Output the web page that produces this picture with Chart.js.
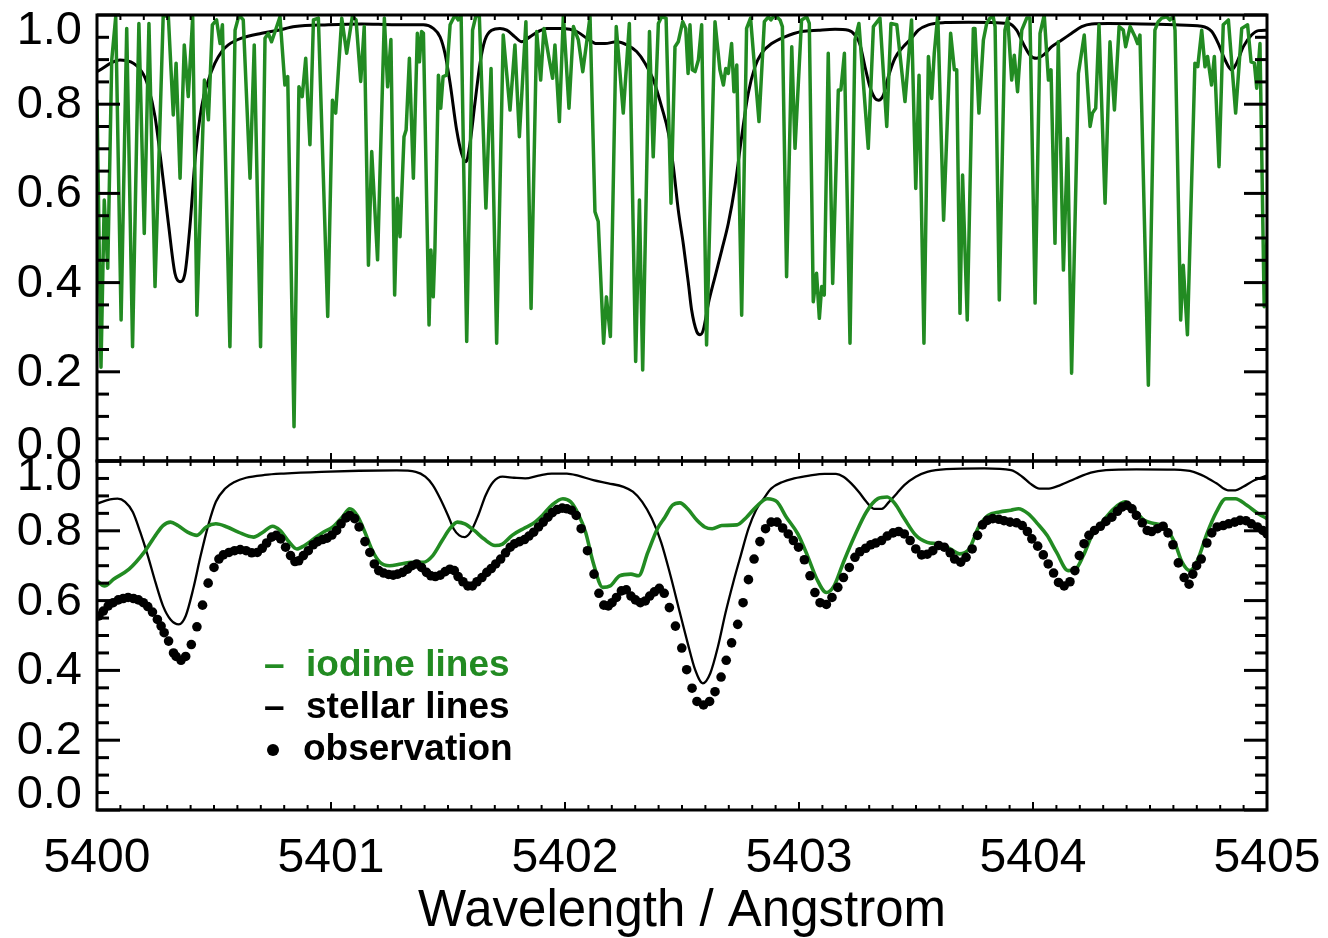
<!DOCTYPE html>
<html>
<head>
<meta charset="utf-8">
<script src="https://cdn.jsdelivr.net/npm/chart.js@4.4.0/dist/chart.umd.min.js"></script>
<style>
  html, body { margin: 0; padding: 0; background: #fff; }
  #wrap { position: relative; width: 1328px; height: 938px; }
  canvas { position: absolute; left: 0; top: 0; }
</style>
</head>
<body>
<div id="wrap">
  <canvas id="bottomPanel" width="1328" height="938"></canvas>
  <canvas id="topPanel" width="1328" height="938"></canvas>
</div>
<script>
// ---------------- DATA (wavelength given as offset from 5400 Angstrom) ----------------
const WAVE0 = 5400;
const xTickValues = [5400, 5401, 5402, 5403, 5404, 5405];
const yTickValues = [0.0, 0.2, 0.4, 0.6, 0.8, 1.0];
const yTickLabels = ['0.0', '0.2', '0.4', '0.6', '0.8', '1.0'];
const xAxisTitle = 'Wavelength / Angstrom';
const legendLabels = ['iodine lines', 'stellar lines', 'observation'];

// Top panel: high-resolution iodine spectrum
const iodineHiRes_dWave = [0.000,0.017,0.031,0.046,0.063,0.080,0.103,0.127,0.152,0.179,0.202,0.222,0.248,0.283,0.305,0.326,0.338,0.355,0.373,0.390,0.409,0.427,0.459,0.476,0.493,0.511,0.526,0.536,0.568,0.590,0.607,0.625,0.654,0.672,0.699,0.718,0.732,0.746,0.761,0.782,0.803,0.815,0.842,0.863,0.877,0.892,0.910,0.925,0.946,0.986,1.006,1.020,1.046,1.067,1.091,1.107,1.127,1.142,1.160,1.174,1.199,1.228,1.242,1.256,1.272,1.283,1.295,1.312,1.321,1.335,1.352,1.369,1.378,1.387,1.395,1.419,1.427,1.437,1.444,1.459,1.469,1.479,1.494,1.509,1.530,1.544,1.556,1.580,1.605,1.620,1.634,1.662,1.684,1.708,1.736,1.765,1.786,1.805,1.833,1.855,1.879,1.896,1.910,1.933,1.947,1.957,1.976,1.993,2.017,2.036,2.057,2.076,2.107,2.128,2.142,2.165,2.177,2.194,2.219,2.249,2.275,2.302,2.318,2.332,2.361,2.377,2.399,2.413,2.432,2.453,2.470,2.484,2.503,2.516,2.526,2.534,2.544,2.556,2.570,2.584,2.605,2.641,2.662,2.677,2.687,2.698,2.712,2.722,2.734,2.755,2.776,2.793,2.829,2.852,2.869,2.880,2.897,2.919,2.929,2.947,2.969,2.983,3.011,3.033,3.044,3.061,3.075,3.087,3.097,3.108,3.125,3.144,3.168,3.179,3.194,3.218,3.239,3.256,3.296,3.318,3.346,3.375,3.393,3.418,3.453,3.481,3.499,3.513,3.534,3.553,3.567,3.578,3.593,3.618,3.648,3.664,3.674,3.688,3.699,3.719,3.745,3.752,3.769,3.788,3.802,3.816,3.830,3.838,3.856,3.880,3.892,3.909,3.920,3.934,3.952,3.973,3.987,4.009,4.030,4.048,4.066,4.077,4.094,4.108,4.130,4.148,4.165,4.194,4.219,4.244,4.254,4.268,4.282,4.308,4.329,4.348,4.368,4.386,4.396,4.415,4.436,4.447,4.457,4.493,4.521,4.535,4.550,4.571,4.585,4.600,4.607,4.631,4.642,4.660,4.692,4.704,4.721,4.735,4.746,4.763,4.775,4.795,4.813,4.835,4.866,4.892,4.917,4.932,4.946,4.956,4.970,4.988,5.000];
const iodineHiRes_flux = [0.81,0.21,0.585,0.432,0.899,0.996,0.316,0.970,0.256,0.981,0.510,0.981,0.391,1.000,0.996,0.776,0.892,0.634,0.933,0.817,0.996,0.327,0.854,0.765,0.978,0.989,0.936,0.978,0.256,0.966,1.000,0.989,0.634,0.933,0.256,0.948,0.959,0.940,0.963,0.996,0.843,0.862,0.077,0.839,0.817,0.903,0.709,0.989,0.993,0.324,0.809,0.780,0.993,0.914,0.996,0.989,0.851,0.974,0.439,0.694,0.451,0.993,0.839,0.945,0.372,0.589,0.503,0.727,0.742,0.903,0.634,0.959,0.895,0.963,0.959,0.305,0.473,0.368,0.473,0.865,0.791,0.862,0.865,0.978,1.000,0.989,1.000,0.268,0.966,1.000,0.996,0.567,0.880,0.264,0.955,0.787,0.933,0.727,0.985,0.342,0.963,0.854,0.970,0.899,0.858,0.933,0.761,1.000,0.791,0.974,0.944,0.873,0.996,0.559,0.537,0.264,0.368,0.279,0.974,0.780,0.981,0.223,0.585,0.204,0.963,0.682,0.981,0.996,0.993,0.578,0.929,0.940,0.985,0.970,0.869,0.978,0.877,0.873,0.899,0.978,0.260,0.985,0.877,0.843,0.880,0.869,0.936,0.828,0.888,0.327,0.970,0.993,0.761,0.985,0.996,0.989,1.000,0.989,0.974,0.413,0.929,0.701,0.989,0.996,0.981,0.357,0.421,0.320,0.391,0.372,0.914,0.398,0.832,0.832,0.914,0.264,0.944,0.981,0.701,0.974,0.993,0.750,0.981,0.978,0.806,0.989,0.611,0.865,0.264,0.907,0.813,0.914,1.000,0.540,0.959,0.877,0.877,0.331,0.641,0.316,0.970,0.970,0.780,0.944,0.981,0.993,0.996,0.974,0.361,0.966,0.993,0.854,0.910,0.828,0.966,0.993,0.993,0.354,0.959,1.000,0.854,0.877,0.488,0.940,0.428,0.723,0.197,0.869,0.955,0.750,0.780,0.791,0.978,0.578,0.940,0.787,0.974,0.966,0.929,0.974,0.951,0.936,0.955,0.170,0.966,0.985,0.993,0.996,0.989,0.996,0.966,0.316,0.439,0.283,0.892,0.884,0.966,0.884,0.907,0.843,0.907,0.660,0.978,0.989,0.780,0.970,0.978,0.895,0.892,0.836,0.936,0.346,0.50];

// Top panel: stellar template
const stellarTop_dWave = [0.000,0.098,0.191,0.219,0.248,0.276,0.305,0.333,0.355,0.376,0.397,0.419,0.447,0.476,0.504,0.533,0.561,0.618,0.704,0.775,0.846,0.989,1.131,1.274,1.395,1.437,1.466,1.487,1.509,1.537,1.558,1.577,1.594,1.615,1.637,1.658,1.687,1.722,1.751,1.786,1.815,1.850,1.886,1.922,1.993,2.050,2.093,2.135,2.171,2.221,2.264,2.306,2.342,2.378,2.413,2.442,2.463,2.484,2.506,2.527,2.541,2.563,2.577,2.591,2.613,2.641,2.670,2.698,2.726,2.755,2.783,2.812,2.840,2.883,2.940,3.011,3.083,3.154,3.211,3.239,3.261,3.282,3.303,3.325,3.339,3.361,3.382,3.410,3.446,3.481,3.510,3.553,3.624,3.724,3.895,3.930,3.958,3.987,4.015,4.044,4.080,4.123,4.165,4.208,4.251,4.322,4.464,4.607,4.721,4.764,4.792,4.821,4.849,4.870,4.899,4.934,4.963,5.000];
const stellarTop_flux = [0.873,0.899,0.873,0.839,0.772,0.660,0.533,0.421,0.402,0.421,0.525,0.675,0.794,0.854,0.892,0.918,0.933,0.948,0.959,0.966,0.974,0.978,0.980,0.978,0.978,0.970,0.951,0.914,0.847,0.742,0.690,0.671,0.712,0.802,0.892,0.944,0.966,0.970,0.966,0.951,0.940,0.951,0.963,0.970,0.970,0.963,0.948,0.936,0.936,0.940,0.933,0.918,0.892,0.854,0.794,0.735,0.660,0.563,0.485,0.400,0.339,0.290,0.283,0.294,0.354,0.413,0.473,0.533,0.615,0.727,0.824,0.884,0.914,0.936,0.951,0.963,0.966,0.968,0.966,0.955,0.933,0.884,0.839,0.813,0.809,0.821,0.862,0.903,0.929,0.948,0.966,0.978,0.983,0.984,0.981,0.966,0.936,0.910,0.903,0.910,0.929,0.944,0.959,0.974,0.980,0.981,0.980,0.978,0.975,0.963,0.936,0.899,0.877,0.892,0.929,0.955,0.965,0.966];

// Bottom panel: stellar template (convolved)
const stellarBot_dWave = [0.000,0.056,0.088,0.120,0.153,0.185,0.217,0.250,0.282,0.314,0.350,0.379,0.411,0.443,0.475,0.508,0.548,0.588,0.637,0.717,0.798,0.959,1.120,1.282,1.362,1.403,1.435,1.467,1.500,1.524,1.548,1.572,1.596,1.629,1.661,1.693,1.733,1.782,1.830,1.887,1.943,2.008,2.056,2.121,2.185,2.250,2.290,2.330,2.371,2.411,2.451,2.491,2.524,2.556,2.589,2.621,2.654,2.686,2.719,2.751,2.784,2.816,2.849,2.881,2.930,2.979,3.044,3.109,3.158,3.190,3.223,3.255,3.288,3.320,3.354,3.385,3.418,3.450,3.499,3.548,3.629,3.792,3.906,3.954,3.987,4.028,4.068,4.117,4.182,4.247,4.312,4.442,4.605,4.686,4.735,4.784,4.833,4.865,4.898,4.946,5.000];
const stellarBot_flux = [0.878,0.890,0.892,0.883,0.854,0.796,0.729,0.652,0.585,0.546,0.532,0.556,0.633,0.729,0.815,0.883,0.921,0.940,0.952,0.960,0.964,0.969,0.972,0.973,0.969,0.955,0.931,0.892,0.844,0.806,0.787,0.782,0.796,0.844,0.902,0.940,0.955,0.952,0.950,0.958,0.964,0.964,0.958,0.945,0.936,0.926,0.912,0.883,0.835,0.767,0.671,0.565,0.479,0.402,0.363,0.392,0.469,0.565,0.652,0.729,0.806,0.859,0.892,0.921,0.940,0.950,0.958,0.963,0.963,0.955,0.936,0.912,0.883,0.863,0.863,0.883,0.907,0.931,0.955,0.969,0.977,0.979,0.974,0.955,0.936,0.921,0.921,0.931,0.950,0.967,0.974,0.976,0.975,0.969,0.955,0.936,0.916,0.916,0.926,0.945,0.958];

// Bottom panel: iodine spectrum (convolved)
const iodineBot_dWave = [0.000,0.032,0.072,0.137,0.201,0.250,0.282,0.314,0.346,0.387,0.427,0.467,0.508,0.556,0.604,0.669,0.709,0.750,0.782,0.822,0.854,0.887,0.927,0.967,1.008,1.048,1.080,1.112,1.145,1.177,1.209,1.250,1.298,1.346,1.395,1.435,1.475,1.508,1.540,1.572,1.612,1.653,1.701,1.733,1.774,1.822,1.862,1.903,1.943,1.991,2.024,2.056,2.088,2.120,2.161,2.193,2.233,2.282,2.314,2.354,2.395,2.427,2.459,2.491,2.524,2.564,2.597,2.629,2.670,2.735,2.776,2.816,2.865,2.906,2.946,2.995,3.036,3.076,3.117,3.150,3.190,3.239,3.288,3.337,3.377,3.410,3.450,3.499,3.548,3.597,3.646,3.686,3.727,3.768,3.808,3.857,3.906,3.938,3.979,4.020,4.060,4.101,4.150,4.182,4.215,4.255,4.296,4.345,4.393,4.434,4.475,4.524,4.564,4.605,4.637,4.670,4.702,4.743,4.784,4.824,4.865,4.914,4.963,5.000];
const iodineBot_flux = [0.657,0.642,0.662,0.690,0.738,0.787,0.815,0.825,0.815,0.796,0.787,0.811,0.820,0.811,0.796,0.782,0.796,0.813,0.801,0.767,0.748,0.758,0.777,0.796,0.811,0.839,0.863,0.844,0.796,0.743,0.710,0.700,0.705,0.710,0.710,0.729,0.772,0.806,0.825,0.820,0.801,0.777,0.758,0.762,0.787,0.806,0.820,0.844,0.873,0.892,0.883,0.849,0.796,0.710,0.638,0.642,0.671,0.676,0.671,0.738,0.806,0.839,0.873,0.880,0.863,0.830,0.811,0.806,0.815,0.817,0.839,0.868,0.892,0.883,0.839,0.791,0.729,0.662,0.623,0.642,0.710,0.787,0.854,0.892,0.897,0.878,0.835,0.787,0.767,0.762,0.748,0.734,0.748,0.811,0.844,0.854,0.859,0.863,0.849,0.820,0.787,0.738,0.686,0.690,0.729,0.791,0.825,0.863,0.883,0.859,0.830,0.820,0.811,0.767,0.710,0.686,0.714,0.791,0.854,0.892,0.892,0.873,0.849,0.835];

// Bottom panel: observed spectrum
const observed_dWave = [0.008,0.027,0.048,0.069,0.091,0.112,0.133,0.156,0.177,0.198,0.217,0.237,0.258,0.274,0.287,0.306,0.327,0.338,0.359,0.379,0.403,0.427,0.451,0.475,0.500,0.521,0.540,0.564,0.588,0.612,0.637,0.661,0.685,0.706,0.725,0.746,0.766,0.785,0.806,0.827,0.846,0.862,0.882,0.903,0.924,0.943,0.964,0.983,1.004,1.024,1.043,1.064,1.080,1.101,1.120,1.145,1.166,1.185,1.204,1.225,1.246,1.266,1.285,1.306,1.327,1.346,1.366,1.387,1.408,1.427,1.446,1.467,1.488,1.508,1.527,1.543,1.564,1.585,1.604,1.624,1.645,1.666,1.685,1.704,1.725,1.746,1.766,1.785,1.806,1.827,1.846,1.866,1.887,1.907,1.927,1.946,1.967,1.988,2.008,2.027,2.048,2.069,2.096,2.124,2.145,2.166,2.185,2.201,2.220,2.241,2.262,2.282,2.301,2.322,2.343,2.362,2.382,2.403,2.424,2.446,2.472,2.499,2.520,2.543,2.564,2.592,2.618,2.641,2.667,2.689,2.712,2.738,2.761,2.784,2.808,2.833,2.857,2.881,2.906,2.930,2.954,2.976,2.998,3.023,3.047,3.068,3.090,3.117,3.141,3.166,3.190,3.215,3.239,3.260,3.285,3.307,3.328,3.353,3.377,3.402,3.426,3.450,3.475,3.499,3.524,3.548,3.572,3.597,3.621,3.646,3.665,3.691,3.714,3.740,3.763,3.784,3.805,3.828,3.854,3.876,3.902,3.930,3.954,3.976,3.995,4.020,4.044,4.065,4.088,4.109,4.133,4.158,4.179,4.198,4.218,4.239,4.263,4.288,4.312,4.337,4.361,4.380,4.402,4.423,4.442,4.467,4.488,4.507,4.532,4.556,4.577,4.598,4.621,4.646,4.667,4.683,4.699,4.719,4.743,4.764,4.787,4.813,4.836,4.862,4.885,4.910,4.933,4.959,4.982,5.000];
const observed_flux = [0.556,0.570,0.585,0.594,0.602,0.606,0.609,0.606,0.602,0.594,0.583,0.567,0.546,0.527,0.508,0.484,0.450,0.440,0.429,0.440,0.474,0.525,0.587,0.650,0.695,0.719,0.731,0.738,0.743,0.746,0.743,0.737,0.738,0.750,0.765,0.782,0.787,0.777,0.753,0.729,0.712,0.714,0.729,0.743,0.760,0.769,0.775,0.779,0.788,0.801,0.820,0.837,0.844,0.835,0.811,0.769,0.738,0.705,0.686,0.679,0.675,0.673,0.676,0.681,0.690,0.700,0.705,0.695,0.681,0.671,0.669,0.673,0.683,0.690,0.686,0.669,0.654,0.642,0.642,0.654,0.666,0.681,0.692,0.705,0.719,0.737,0.753,0.763,0.769,0.775,0.785,0.796,0.811,0.825,0.839,0.852,0.861,0.865,0.863,0.859,0.844,0.806,0.743,0.676,0.621,0.587,0.585,0.594,0.609,0.628,0.631,0.613,0.602,0.594,0.599,0.613,0.625,0.635,0.621,0.580,0.527,0.464,0.402,0.349,0.311,0.301,0.311,0.339,0.381,0.429,0.479,0.532,0.594,0.660,0.719,0.769,0.806,0.825,0.825,0.808,0.791,0.772,0.753,0.717,0.671,0.623,0.594,0.589,0.609,0.638,0.666,0.695,0.724,0.740,0.750,0.760,0.765,0.772,0.785,0.794,0.798,0.791,0.772,0.748,0.731,0.733,0.743,0.758,0.753,0.737,0.719,0.710,0.724,0.748,0.787,0.817,0.830,0.835,0.833,0.829,0.825,0.823,0.815,0.798,0.777,0.756,0.731,0.705,0.679,0.652,0.642,0.654,0.686,0.729,0.763,0.787,0.801,0.813,0.827,0.839,0.856,0.868,0.873,0.863,0.844,0.823,0.801,0.798,0.806,0.813,0.794,0.760,0.708,0.666,0.647,0.676,0.700,0.719,0.765,0.794,0.811,0.815,0.820,0.825,0.830,0.829,0.820,0.811,0.801,0.791];

// ---------------- RENDERING ----------------
const GREEN = 'rgb(34,139,34)';
const FONT = "'Liberation Sans', Arial, Helvetica, sans-serif";
Chart.defaults.font.family = FONT;
const toXY = (dw, f) => dw.map((d, i) => ({ x: WAVE0 + d, y: f[i] }));

function line(ctx, x1, y1, x2, y2) { ctx.beginPath(); ctx.moveTo(x1, y1); ctx.lineTo(x2, y2); ctx.stroke(); }

const framePlugin = {
  id: 'frame',
  afterDatasetsDraw(chart) {
    const { ctx, chartArea: { left, right, top, bottom } } = chart;
    const xs = chart.scales.x, ys = chart.scales.y;
    ctx.save();
    ctx.strokeStyle = '#000';
    ctx.lineCap = 'butt';
    // x minor/major ticks (inward, top and bottom)
    ctx.lineWidth = 2;
    for (let i = 0; i <= 50; i++) {
      const v = xTickValues[0] + i * 0.1;
      const px = xs.getPixelForValue(v);
      const len = (i % 10 === 0) ? 8 : 5;
      line(ctx, px, top, px, top + len);
      line(ctx, px, bottom, px, bottom - len);
    }
    // y minor/major ticks (inward, left and right)
    ctx.lineWidth = 3;
    for (let i = 0; i <= 20; i++) {
      const py = ys.getPixelForValue(i * 0.05);
      const len = (i % 4 === 0) ? 23 : 12;
      line(ctx, left, py, left + len, py);
      line(ctx, right, py, right - len, py);
    }
    ctx.lineWidth = 3;
    ctx.strokeRect(left, top, right - left, bottom - top);
    // y tick labels
    ctx.fillStyle = '#000';
    ctx.font = '47px ' + FONT;
    ctx.textAlign = 'right';
    ctx.textBaseline = 'middle';
    yTickValues.forEach((v, i) => {
      let py = ys.getPixelForValue(v);
      py = Math.min(Math.max(py, top + 15), bottom - 16);
      ctx.fillText(yTickLabels[i], 82, py + 1);
    });
    ctx.restore();
  }
};

const legendPlugin = {
  id: 'specLegend',
  afterDraw(chart) {
    const { ctx } = chart;
    ctx.save();
    ctx.font = 'bold 37px ' + FONT;
    ctx.textAlign = 'left';
    ctx.textBaseline = 'alphabetic';
    const rows = [
      { label: legendLabels[0], color: GREEN, kind: 'line', base: 676 },
      { label: legendLabels[1], color: '#000', kind: 'line', base: 718 },
      { label: legendLabels[2], color: '#000', kind: 'dot', base: 760 }
    ];
    rows.forEach(r => {
      ctx.fillStyle = r.color;
      if (r.kind === 'line') {
        ctx.fillText('\u2013', 264, r.base);
      } else {
        ctx.beginPath(); ctx.arc(273, r.base - 10, 6, 0, Math.PI * 2); ctx.fill();
      }
      ctx.fillText(r.label, r.kind === 'dot' ? 303 : 306, r.base);
    });
    ctx.restore();
  }
};

// Top panel
new Chart(document.getElementById('topPanel'), {
  type: 'scatter',
  data: {
    datasets: [
      { label: legendLabels[0], data: toXY(iodineHiRes_dWave, iodineHiRes_flux), showLine: true,
        borderColor: GREEN, borderWidth: 3.5, pointRadius: 0, tension: 0, borderJoinStyle: 'round' },
      { label: legendLabels[1], data: toXY(stellarTop_dWave, stellarTop_flux), showLine: true,
        borderColor: '#000', borderWidth: 3, pointRadius: 0, cubicInterpolationMode: 'monotone' }
    ]
  },
  options: {
    responsive: false, animation: false, devicePixelRatio: 1,
    layout: { padding: { left: 97, right: 61, top: 15, bottom: 477 } },
    scales: {
      x: { type: 'linear', min: 5400, max: 5405, display: false },
      y: { type: 'linear', min: 0, max: 1, display: false }
    },
    plugins: { legend: { display: false }, tooltip: { enabled: false } }
  },
  plugins: [framePlugin]
});

// Bottom panel
new Chart(document.getElementById('bottomPanel'), {
  type: 'scatter',
  data: {
    datasets: [
      { label: legendLabels[2], data: toXY(observed_dWave, observed_flux), showLine: false,
        pointRadius: 4.8, pointBackgroundColor: '#000', pointBorderWidth: 0 },
      { label: legendLabels[0], data: toXY(iodineBot_dWave, iodineBot_flux), showLine: true,
        borderColor: GREEN, borderWidth: 3.6, pointRadius: 0, cubicInterpolationMode: 'monotone' },
      { label: legendLabels[1], data: toXY(stellarBot_dWave, stellarBot_flux), showLine: true,
        borderColor: '#000', borderWidth: 2.3, pointRadius: 0, cubicInterpolationMode: 'monotone' }
    ]
  },
  options: {
    responsive: false, animation: false, devicePixelRatio: 1,
    layout: { padding: { left: 97, right: 61, top: 461, bottom: 0 } },
    scales: {
      x: {
        type: 'linear', min: 5400, max: 5405, position: 'bottom',
        afterBuildTicks: s => { s.ticks = xTickValues.map(v => ({ value: v })); },
        afterFit: s => { s.height = 128; s.paddingLeft = 0; s.paddingRight = 0; },
        ticks: { font: { size: 48 }, color: '#000', padding: 20, maxRotation: 0, autoSkip: false,
                 callback: v => String(v) },
        grid: { display: false, drawTicks: false },
        border: { display: false },
        title: { display: true, text: xAxisTitle, color: '#000', font: { size: 51, lineHeight: 1.0 }, padding: { top: 0, bottom: 1 } }
      },
      y: { type: 'linear', min: 0, max: 1, display: false }
    },
    plugins: { legend: { display: false }, tooltip: { enabled: false } }
  },
  plugins: [framePlugin, legendPlugin]
});
</script>
</body>
</html>
